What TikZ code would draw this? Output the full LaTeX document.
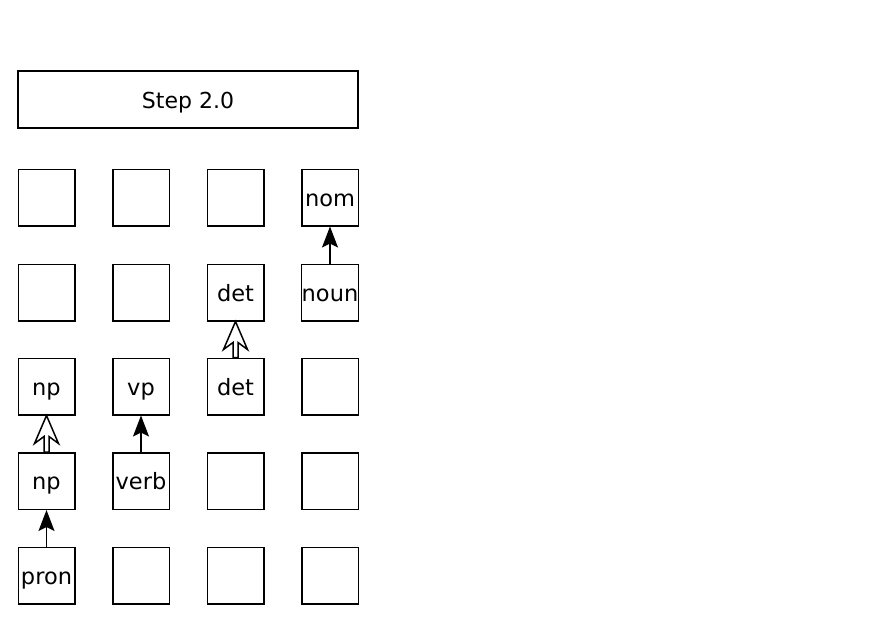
\documentclass[tikz,border=0pt]{standalone}
\usepackage{fontspec}
\setmainfont{DejaVu Sans}
\usetikzlibrary{arrows.meta,calc}
\begin{document}
\begin{tikzpicture}[x=1pt,y=-1pt,
  cell/.style={draw, line width=1.5pt, minimum width=56.5pt, minimum height=56.5pt, inner sep=0pt, text height=19pt, text depth=2pt, font=\fontsize{22.5}{25}\selectfont},
  titlebox/.style={draw, line width=1.5pt, minimum width=340pt, minimum height=57pt, inner sep=0pt, text height=19pt, text depth=2pt, font=\fontsize{22}{25}\selectfont},
  solidarrow/.style={line width=1.5pt, -{Stealth[length=21pt,width=16pt,inset=4pt]}},
  hollowarrow/.style={line width=1.5pt, fill=white, line join=miter}
]
\useasboundingbox (0,0) rectangle (872,641);
\node[titlebox] (title) at (188,99.5) {Step 2.0};
% row 1
\node[cell] (r1c1) at (46.5,197.5) {};
\node[cell] (r1c2) at (141,197.5) {};
\node[cell] (r1c3) at (235.5,197.5) {};
\node[cell] (nom) at (330,197.5) {nom};
% row 2
\node[cell] (r2c1) at (46.5,292.5) {};
\node[cell] (r2c2) at (141,292.5) {};
\node[cell] (det2) at (235.5,292.5) {det};
\node[cell] (noun) at (330,292.5) {noun};
% row 3
\node[cell] (np3) at (46.5,386.5) {np};
\node[cell] (vp) at (141,386.5) {vp};
\node[cell] (det3) at (235.5,386.5) {det};
\node[cell] (r3c4) at (330,386.5) {};
% row 4
\node[cell] (np4) at (46.5,481) {np};
\node[cell] (verb) at (141,481) {verb};
\node[cell] (r4c3) at (235.5,481) {};
\node[cell] (r4c4) at (330,481) {};
% row 5
\node[cell] (pron) at (46.5,575.5) {pron};
\node[cell] (r5c2) at (141,575.5) {};
\node[cell] (r5c3) at (235.5,575.5) {};
\node[cell] (r5c4) at (330,575.5) {};
% solid arrows
\draw[solidarrow] (noun) -- (nom);
\draw[solidarrow] (verb) -- (vp);
\draw[solidarrow] (pron) -- (np4);
% hollow arrows
\newcommand\hollowup[2]{%
  \draw[hollowarrow] (#2.south)
    -- ([xshift=12pt,yshift=-28pt]#2.south)
    -- ([xshift=2.5pt,yshift=-21pt]#2.south)
    -- ([xshift=2.5pt]#1.north)
    -- ([xshift=-2.5pt]#1.north)
    -- ([xshift=-2.5pt,yshift=-21pt]#2.south)
    -- ([xshift=-12pt,yshift=-28pt]#2.south)
    -- cycle;}
\hollowup{det3}{det2}
\hollowup{np4}{np3}
\end{tikzpicture}
\end{document}
